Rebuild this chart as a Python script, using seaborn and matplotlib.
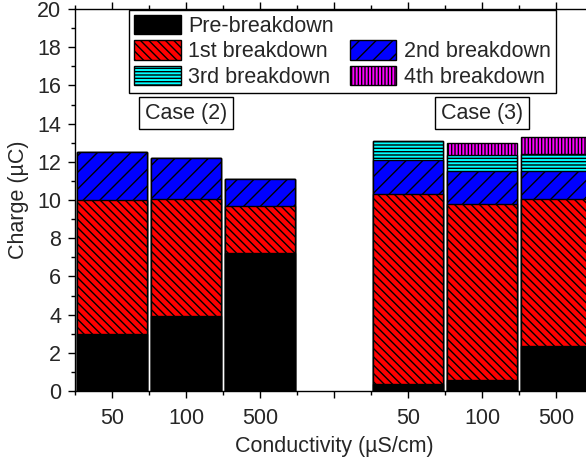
import numpy as np
import pandas as pd
import matplotlib
matplotlib.use("Agg")
import matplotlib.pyplot as plt
from matplotlib.patches import Patch
from matplotlib.ticker import FixedLocator, MultipleLocator
import seaborn as sns

# ---------------- data ----------------
slots = ["c2_50", "c2_100", "c2_500", "gap", "c3_50", "c3_100", "c3_500"]
tick_labels = ["50", "100", "500", "", "50", "100", "500"]
bar_slots = ["c2_50", "c2_100", "c2_500", "c3_50", "c3_100", "c3_500"]

pre_breakdown = [3.0, 3.95, 7.2, 0.35, 0.55, 2.35]
first_breakdown = [7.0, 6.1, 2.5, 9.95, 9.25, 7.7]
second_breakdown = [2.5, 2.15, 1.4, 1.8, 1.7, 1.45]
third_breakdown = [0.0, 0.0, 0.0, 1.0, 0.85, 0.9]
fourth_breakdown = [0.0, 0.0, 0.0, 0.0, 0.65, 0.9]

series_names = ["Pre-breakdown", "1st breakdown", "2nd breakdown",
                "3rd breakdown", "4th breakdown"]
series_values = [pre_breakdown, first_breakdown, second_breakdown,
                 third_breakdown, fourth_breakdown]
colors = ["#000000", "#FF0000", "#0000FF", "#00FFFF", "#FF00FF"]
hatches = [None, "\\\\\\\\", "//", "-----", "|||||"]

case_labels = ["Case (2)", "Case (3)"]

# ---------------- style ----------------
sns.set_style("ticks")
plt.rcParams["font.family"] = ["Liberation Sans", "DejaVu Sans"]
plt.rcParams["hatch.linewidth"] = 1.0
FS = 15.5

fig = plt.figure(figsize=(5.86, 4.63), dpi=100)
ax = fig.add_axes([0.128, 0.1555, 0.884, 0.825])

cum = np.cumsum(np.array(series_values), axis=0)
# draw from the tallest cumulative layer down so lower layers sit on top
for i in range(len(series_names) - 1, -1, -1):
    df = pd.DataFrame({"slot": bar_slots, "charge": cum[i]})
    kws = dict(hatch=hatches[i]) if hatches[i] else {}
    sns.barplot(data=df, x="slot", y="charge", order=slots, color=colors[i],
                saturation=1, width=0.955, edgecolor="black", linewidth=1.0,
                errorbar=None, ax=ax, **kws)

ax.set_xlim(-0.5, 6.5)
ax.set_ylim(0, 20)
ax.xaxis.set_major_locator(FixedLocator(range(len(slots))))
ax.set_xticklabels(tick_labels, fontsize=FS)
ax.xaxis.set_minor_locator(FixedLocator(np.arange(-0.5, len(slots), 1.0)))
ax.yaxis.set_major_locator(MultipleLocator(2))
ax.yaxis.set_minor_locator(MultipleLocator(1))
ax.tick_params(axis="y", labelsize=FS)
ax.tick_params(which="major", length=5, width=1, color="black", pad=5)
ax.tick_params(which="minor", length=3, width=1, color="black")
ax.tick_params(axis="x", which="both", top=True, pad=7)
for s in ax.spines.values():
    s.set_color("black")
    s.set_linewidth(1.0)

ax.set_xlabel("Conductivity (µS/cm)", fontsize=FS, labelpad=5)
ax.set_ylabel("Charge (µC)", fontsize=FS, labelpad=6)

# case labels
for xc, lab in zip([1.0, 5.0], case_labels):
    ax.text(xc, 14.55, lab, ha="center", va="center", fontsize=FS,
            bbox=dict(boxstyle="square,pad=0.27", fc="white", ec="black", lw=1))

# legend
handles = []
for i in range(len(series_names)):
    handles.append(Patch(facecolor=colors[i], edgecolor="black",
                         hatch=hatches[i], label=series_names[i]))
blank = Patch(facecolor="none", edgecolor="none", label="")
order = [handles[0], handles[1], handles[3], blank, handles[2], handles[4]]
leg = ax.legend(handles=order, labels=[h.get_label() for h in order], ncol=2,
                loc="upper left", bbox_to_anchor=(0.104, 0.998),
                borderaxespad=0, fontsize=FS, frameon=True, fancybox=False,
                edgecolor="black", framealpha=1, handlelength=2.15,
                handleheight=1.0, labelspacing=0.15, handletextpad=0.35,
                columnspacing=0.75, borderpad=0.25)
leg.get_frame().set_linewidth(1.0)

fig.savefig("out.png", dpi=100)
